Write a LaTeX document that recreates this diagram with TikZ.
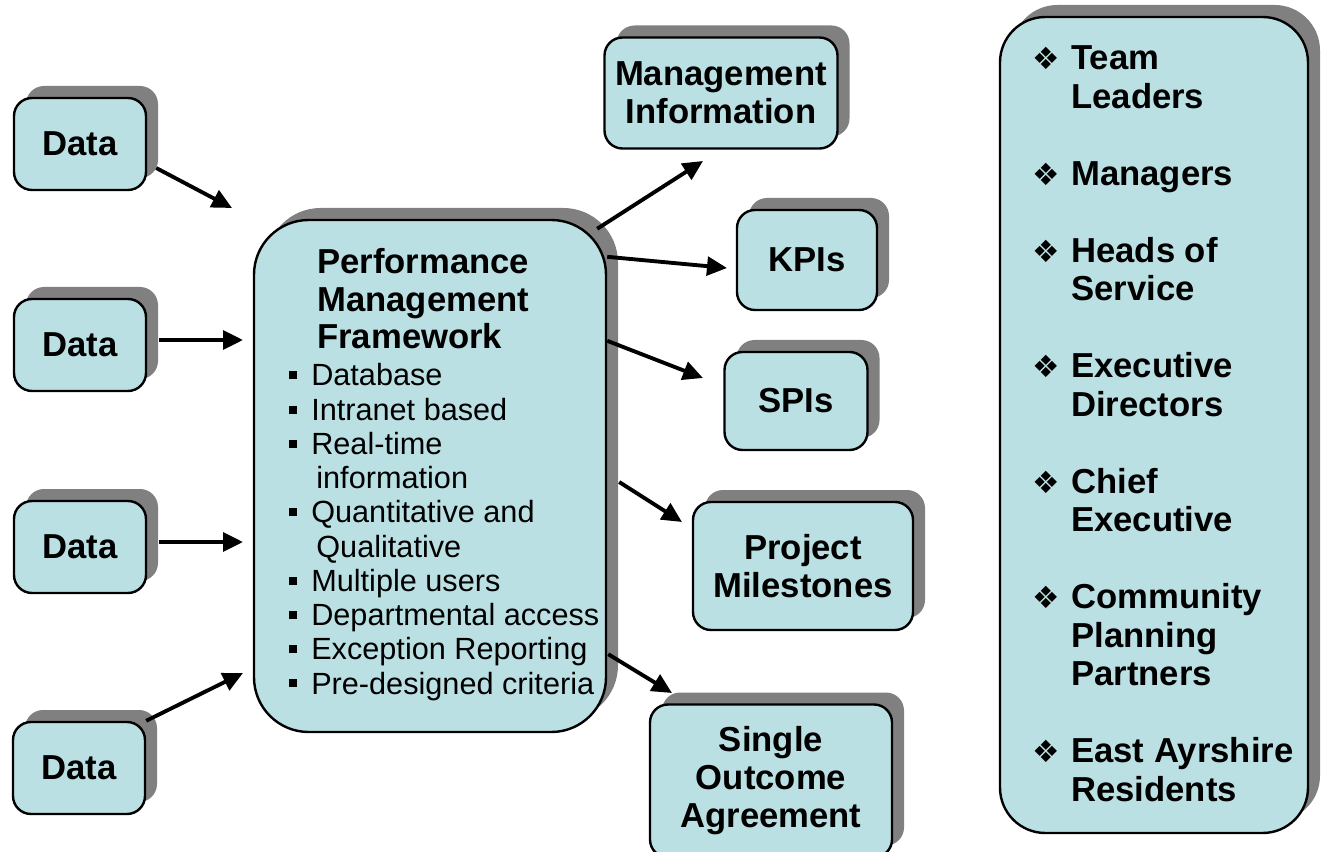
\documentclass[tikz,border=0pt]{standalone}
\usepackage{fontspec}
\setmainfont{Liberation Sans}
\newfontfamily\symfont{DejaVu Sans}
\usetikzlibrary{calc, shadows, arrows.meta}
\definecolor{boxfill}{RGB}{187,224,227}
\definecolor{shadowgray}{RGB}{128,128,128}
\tikzset{
  panel/.style={draw, line width=1.8pt, fill=boxfill, rounded corners=13.5pt,
    drop shadow={shadow xshift=9pt, shadow yshift=9pt, fill=shadowgray, opacity=1},
    align=center, inner sep=0pt, font=\fontsize{26}{28.5}\selectfont\bfseries},
  arr/.style={line width=2.9pt, -{Triangle[length=15pt, width=14pt]}}
}
\newcommand{\sqbullet}{\makebox[16.5pt][l]{\raisebox{5pt}{\rule{6pt}{6pt}}}}
\newcommand{\diabullet}{\makebox[29.25pt][l]{\symfont\fontsize{23}{23}\selectfont ❖}}

\begin{document}
\begin{tikzpicture}[x=0.75pt, y=-0.75pt]
      \useasboundingbox (0,0) rectangle (1325,852);
      \clip (0,0) rectangle (1325,852);
      \node[panel, minimum width=99pt, minimum height=69pt] (data1) at (80,144) {Data};
      \node[panel, minimum width=99pt, minimum height=69pt] (data2) at (80,345) {Data};
      \node[panel, minimum width=99pt, minimum height=69pt] (data3) at (80,547) {Data};
      \node[panel, minimum width=99pt, minimum height=69pt] (data4) at (79,768) {Data};
      \node[panel, minimum width=264pt, minimum height=384pt, rounded corners=41pt] (pmf) at (430,476) {};
      \node[anchor=base west, inner sep=0pt, font=\fontsize{26}{28}\selectfont\bfseries] (pmftitle) at (317,274)
        {\begin{tabular}[t]{@{}l@{}}Performance\\Management\\Framework\end{tabular}};
      \node[anchor=base west, inner sep=0pt, font=\fontsize{23}{25.67}\selectfont] (pmflist) at (289,386)
        {\begin{tabular}[t]{@{}l@{}l@{}}
          \sqbullet & Database\\
          \sqbullet & Intranet based\\
          \sqbullet & Real-time\\
                    & \,information\\
          \sqbullet & Quantitative and\\
                    & \,Qualitative\\
          \sqbullet & Multiple users\\
          \sqbullet & Departmental access\\
          \sqbullet & Exception Reporting\\
          \sqbullet & Pre-designed criteria
        \end{tabular}};
      \node[panel, minimum width=174.75pt, minimum height=83.25pt] (mi) at (721,93) {Management\\Information};
      \node[panel, minimum width=105pt, minimum height=75pt] (kpi) at (807,260) {KPIs};
      \node[panel, minimum width=107.25pt, minimum height=73.5pt] (spi) at (796,401) {SPIs};
      \node[panel, minimum width=165pt, minimum height=96pt] (pm) at (803,566) {Project\\Milestones};
      \node[panel, minimum width=181.5pt, minimum height=114.75pt] (soa) at (771,781) {Single\\Outcome\\Agreement};
      \node[panel, minimum width=231pt, minimum height=612pt, rounded corners=34pt] (aud) at (1154,425) {};
      \node[anchor=base west, inner sep=0pt, font=\fontsize{26}{28.875}\selectfont\bfseries] (audlist) at (1032,70)
        {\begin{tabular}[t]{@{}l@{}l@{}}
          \diabullet & Team\\
                     & Leaders\\[28.875pt]
          \diabullet & Managers\\[28.875pt]
          \diabullet & Heads of\\
                     & Service\\[28.875pt]
          \diabullet & Executive\\
                     & Directors\\[28.875pt]
          \diabullet & Chief\\
                     & Executive\\[28.875pt]
          \diabullet & Community\\
                     & Planning\\
                     & Partners\\[28.875pt]
          \diabullet & East Ayrshire\\
                     & Residents
        \end{tabular}};
      \coordinate (tip1) at (232,208);
      \coordinate (tip2) at (243,340);
      \coordinate (tip3) at (243,542);
      \coordinate (tip4) at (243,673);
      \coordinate (tip5) at (703,161);
      \coordinate (tip6) at (727,268);
      \coordinate (tip7) at (703,378);
      \coordinate (tip8) at (682,522);
      \coordinate (tip9) at (672,693);
      \draw[arr] ($(data1.east)+(9,24)$) -- (tip1);
      \draw[arr] ($(data2.east)+(12,-5)$) -- (tip2);
      \draw[arr] ($(data3.east)+(12,-5)$) -- (tip3);
      \draw[arr] (data4.north east) -- (tip4);
      \draw[arr] ($(pmf.north east)+(-10,10)$) -- (tip5);
      \draw[arr] ($(pmf.north east)+(0,38)$) -- (tip6);
      \draw[arr] ($(pmf.north east)+(0,122)$) -- (tip7);
      \draw[arr] ($(pmf.east)+(12,6)$) -- (tip8);
      \draw[arr] ($(pmf.south east)+(1,-79)$) -- (tip9);
\end{tikzpicture}
\end{document}
